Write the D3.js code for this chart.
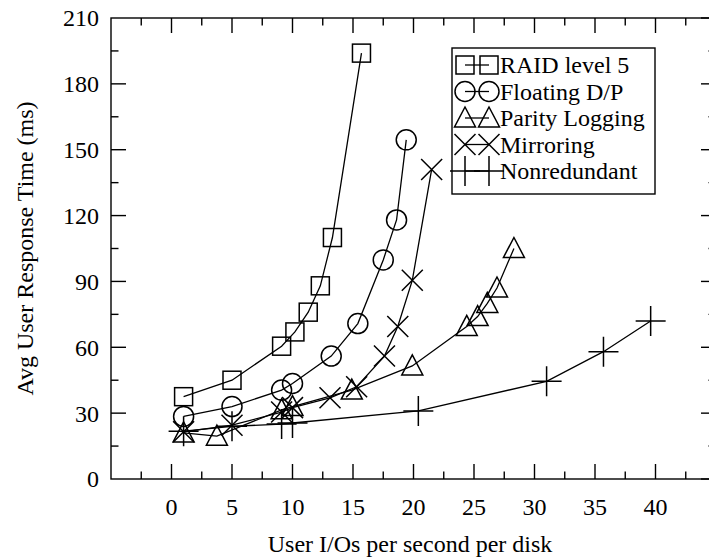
<!DOCTYPE html>
<html>
<head>
<meta charset="utf-8">
<script src="https://cdn.jsdelivr.net/npm/d3@7"></script>
<style>
  html, body { margin: 0; padding: 0; background: #fff; }
  svg { display: block; }
  text { font-family: "Liberation Serif", "Times New Roman", serif; fill: #000; }
</style>
</head>
<body>
<svg id="chart" width="709" height="560"></svg>
<script>
// ---- data ----
const seriesNames = ["RAID level 5", "Floating D/P", "Parity Logging", "Mirroring", "Nonredundant"];
const seriesMarkers = ["square", "circle", "triangle", "cross", "plus"];

const raid5X = [1, 5, 9.1, 10.2, 11.3, 12.3, 13.3, 15.7];
const raid5Y = [37.5, 45, 60.5, 67, 76, 88, 110, 194];

const floatingX = [1, 5, 9.1, 10, 13.2, 15.4, 17.5, 18.6, 19.4];
const floatingY = [28.5, 33, 40.5, 43.5, 56, 70.8, 99.8, 118, 154.5];

const parityX = [1, 3.75, 9.1, 10, 14.9, 19.9, 24.4, 25.3, 26.1, 26.9, 28.3];
const parityY = [21, 19.5, 31.5, 33, 40.5, 51.5, 69.5, 74, 80, 87, 105];

const mirrorX = [1, 5, 9.1, 10, 13.1, 15.3, 17.6, 18.7, 19.9, 21.5];
const mirrorY = [21.5, 24.5, 30.5, 32.5, 37, 42, 56, 69.5, 90.5, 141];

const nonredX = [1, 5, 9.1, 10, 20.4, 31, 35.7, 39.6];
const nonredY = [21.8, 24, 25, 25.5, 31, 44.5, 58, 72];

const xTickLabels = [0, 5, 10, 15, 20, 25, 30, 35, 40];
const yTickLabels = [0, 30, 60, 90, 120, 150, 180, 210];
const xLabel = "User I/Os per second per disk";
const yLabel = "Avg User Response Time (ms)";

const seriesX = [raid5X, floatingX, parityX, mirrorX, nonredX];
const seriesY = [raid5Y, floatingY, parityY, mirrorY, nonredY];

// ---- layout ----
const svg = d3.select("#chart");
const L = 111, R = 716, T = 18, B = 479;
const x = d3.scaleLinear().domain([-5, 45]).range([L, R]);
const y = d3.scaleLinear().domain([0, 210]).range([B, T]);

const majorLen = 15, minorLen = 7.5;
const axG = svg.append("g").attr("stroke", "#000").attr("stroke-width", 1.4);

// frame
axG.append("rect").attr("x", L).attr("y", T).attr("width", R - L).attr("height", B - T).attr("fill", "none");

// x ticks (bottom & top) every 2.5
const xt = d3.range(-2.5, 45, 2.5);
xt.forEach(v => {
  const isMajor = Math.abs(v % 5) < 1e-9;
  const len = isMajor ? majorLen : minorLen;
  axG.append("line").attr("x1", x(v)).attr("x2", x(v)).attr("y1", B).attr("y2", B - len);
  axG.append("line").attr("x1", x(v)).attr("x2", x(v)).attr("y1", T).attr("y2", T + len);
});
// y ticks (left & right) every 15
const yt = d3.range(15, 210, 15);
yt.forEach(v => {
  const isMajor = v % 30 === 0;
  const len = isMajor ? majorLen : minorLen;
  axG.append("line").attr("x1", L).attr("x2", L + len).attr("y1", y(v)).attr("y2", y(v));
  axG.append("line").attr("x1", R).attr("x2", R - len).attr("y1", y(v)).attr("y2", y(v));
});
[0, 210].forEach(v => {
  axG.append("line").attr("x1", R).attr("x2", R - majorLen).attr("y1", y(v)).attr("y2", y(v));
});

// tick labels
svg.append("g").selectAll("text").data(xTickLabels).join("text")
  .attr("x", d => x(d)).attr("y", 515).attr("text-anchor", "middle")
  .attr("font-size", 24).text(d => d);
svg.append("g").selectAll("text").data(yTickLabels).join("text")
  .attr("x", 99).attr("y", d => y(d)).attr("dy", "0.35em").attr("text-anchor", "end")
  .attr("font-size", 24).text(d => d);

// axis titles
svg.append("text").attr("x", (L + 709) / 2).attr("y", 552).attr("text-anchor", "middle")
  .attr("font-size", 24).text(xLabel);
svg.append("text").attr("transform", `translate(33,${(T + B) / 2}) rotate(-90)`)
  .attr("text-anchor", "middle").attr("font-size", 24).text(yLabel);

// ---- markers ----
function drawMarker(g, type, cx, cy) {
  const s = g.append("g").attr("fill", "none").attr("stroke", "#000").attr("stroke-width", 1.5);
  if (type === "square") {
    s.append("rect").attr("x", cx - 9).attr("y", cy - 9).attr("width", 18).attr("height", 18);
  } else if (type === "circle") {
    s.append("circle").attr("cx", cx).attr("cy", cy).attr("r", 10);
  } else if (type === "triangle") {
    s.append("path").attr("d", `M${cx},${cy - 11}L${cx + 10.5},${cy + 9}L${cx - 10.5},${cy + 9}Z`);
  } else if (type === "cross") {
    s.append("path").attr("d", `M${cx - 10.5},${cy - 10.5}L${cx + 10.5},${cy + 10.5}M${cx - 10.5},${cy + 10.5}L${cx + 10.5},${cy - 10.5}`);
  } else if (type === "plus") {
    s.append("path").attr("d", `M${cx - 15},${cy}L${cx + 15},${cy}M${cx},${cy - 15}L${cx},${cy + 15}`);
  }
}

const line = d3.line().x(d => x(d[0])).y(d => y(d[1])).curve(d3.curveLinear);
const plotG = svg.append("g");
seriesNames.forEach((name, i) => {
  const pts = seriesX[i].map((v, j) => [v, seriesY[i][j]]);
  plotG.append("path").attr("d", line(pts)).attr("fill", "none")
    .attr("stroke", "#000").attr("stroke-width", 1.3);
  pts.forEach(p => drawMarker(plotG, seriesMarkers[i], x(p[0]), y(p[1])));
});

// ---- legend ----
const lg = svg.append("g");
lg.append("rect").attr("x", 452).attr("y", 48).attr("width", 203).attr("height", 146)
  .attr("fill", "#fff").attr("stroke", "#000").attr("stroke-width", 1.4);
seriesNames.forEach((name, i) => {
  const cy = 65 + i * 26.5;
  lg.append("line").attr("x1", 465).attr("x2", 489).attr("y1", cy).attr("y2", cy)
    .attr("stroke", "#000").attr("stroke-width", 1.3);
  drawMarker(lg, seriesMarkers[i], 465, cy);
  drawMarker(lg, seriesMarkers[i], 489, cy);
  lg.append("text").attr("x", 500).attr("y", cy).attr("dy", "0.35em")
    .attr("font-size", 24).text(name);
});
</script>
</body>
</html>
